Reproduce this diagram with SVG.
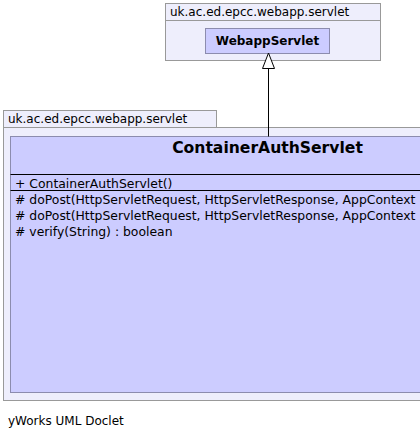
<svg xmlns="http://www.w3.org/2000/svg" width="420" height="439" viewBox="0 0 420 439">
<style>
.pkg{fill:#eeeefc;stroke:#999999;stroke-width:1}
.cls{fill:#ccccff;stroke:#8c8cae;stroke-width:1}
.t{font-family:"DejaVu Sans",Verdana,sans-serif;fill:#000}
.pl{font-size:12px}
.m{font-size:12.4px}
.b{font-weight:bold}
.sep{stroke:#000;stroke-width:1}
</style>
<rect width="420" height="439" fill="#ffffff"/>
<g id="pkg-top">
<rect class="pkg" x="165.5" y="3.5" width="215" height="17"/>
<rect class="pkg" x="165.5" y="20.5" width="215" height="40"/>
<text class="t pl" x="170" y="16">uk.ac.ed.epcc.webapp.servlet</text>
</g>
<g id="pkg-bottom">
<rect class="pkg" x="3.5" y="110.5" width="213" height="17"/>
<rect class="pkg" x="3.5" y="127.5" width="430" height="273"/>
<text class="t pl" x="8" y="123">uk.ac.ed.epcc.webapp.servlet</text>
</g>
<g id="WebappServlet">
<rect class="cls" x="205.5" y="28.5" width="124" height="25"/>
<text class="t b" style="font-size:12px" x="267.5" y="45" text-anchor="middle">WebappServlet</text>
</g>
<g id="ContainerAuthServlet">
<rect class="cls" x="10.5" y="136.5" width="516" height="256"/>
<text class="t b" style="font-size:15.6px" x="267.5" y="153" text-anchor="middle">ContainerAuthServlet</text>
<line class="sep" x1="10.5" y1="174.5" x2="420" y2="174.5"/>
<line class="sep" x1="10.5" y1="190.5" x2="420" y2="190.5"/>
<text class="t m" x="15" y="188">+ ContainerAuthServlet()</text>
<text class="t m" x="15" y="204"># doPost(HttpServletRequest, HttpServletResponse, AppContext</text>
<text class="t m" x="15" y="220"># doPost(HttpServletRequest, HttpServletResponse, AppContext</text>
<text class="t m" x="15" y="236"># verify(String) : boolean</text>
</g>
<g id="connectors">
<line x1="268.5" y1="136.5" x2="268.5" y2="68" stroke="#000" stroke-width="1"/>
<polygon points="268.5,53 262.5,68.5 274.5,68.5" fill="#ffffff" stroke="#000" stroke-width="1"/>
</g>
<text class="t" style="font-size:12px" x="8" y="425">yWorks UML Doclet</text>
</svg>
